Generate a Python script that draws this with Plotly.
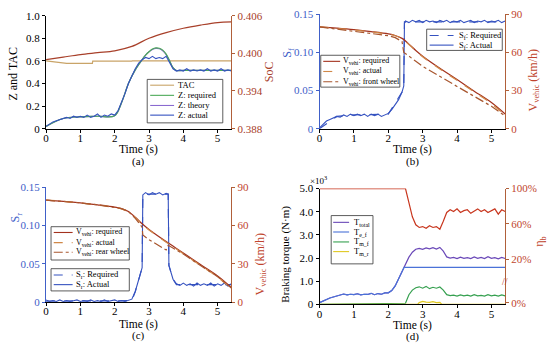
import plotly.graph_objects as go

FONT = "Liberation Serif"
W, H = 550, 351

# ---------------- data ----------------
# (a)
t_a = [0.0, 0.1, 0.2, 0.3, 0.4, 0.5, 0.6, 0.7, 0.8, 0.9,
       1.0, 1.1, 1.2, 1.3, 1.4, 1.5, 1.6, 1.7, 1.8, 1.9,
       2.0, 2.1, 2.2, 2.3, 2.4, 2.5, 2.6, 2.7, 2.8, 2.9,
       3.0, 3.1, 3.2, 3.3, 3.4, 3.5, 3.6, 3.7, 3.8, 3.9,
       4.0, 4.1, 4.2, 4.3, 4.4, 4.5, 4.6, 4.7, 4.8, 4.9,
       5.0, 5.1, 5.2, 5.3, 5.4]
z_actual = [0.02, 0.04, 0.06, 0.07, 0.08, 0.09, 0.10, 0.09, 0.11, 0.10,
            0.11, 0.10, 0.12, 0.10, 0.11, 0.13, 0.10, 0.12, 0.11, 0.13,
            0.12, 0.16, 0.23, 0.31, 0.40, 0.47, 0.53, 0.58, 0.61, 0.63,
            0.62, 0.64, 0.62, 0.63, 0.62, 0.64, 0.59, 0.53, 0.51, 0.52,
            0.51, 0.53, 0.51, 0.52, 0.51, 0.52, 0.51, 0.53, 0.51, 0.52,
            0.51, 0.53, 0.51, 0.52, 0.51]
t_zreq = [0, 0.5, 1.0, 1.5, 2.0, 2.2, 2.4, 2.6, 2.8, 2.9, 3.0, 3.1, 3.2, 3.3,
          3.4, 3.5, 3.6, 3.7, 3.8, 4.0, 5.4]
z_required = [0.02, 0.09, 0.105, 0.11, 0.115, 0.23, 0.40, 0.52, 0.61, 0.65, 0.68,
              0.705, 0.715, 0.712, 0.695, 0.66, 0.60, 0.54, 0.515, 0.515, 0.515]
z_theory = [0.02, 0.09, 0.105, 0.11, 0.115, 0.23, 0.40, 0.52, 0.61, 0.65, 0.68,
            0.70, 0.71, 0.707, 0.69, 0.655, 0.60, 0.54, 0.515, 0.515, 0.515]
t_tac = [0, 0.6, 1.35, 1.36, 2.5, 2.51, 5.4]
tac = [0.6, 0.578, 0.578, 0.597, 0.597, 0.6, 0.6]
t_soc = [0, 0.5, 1.0, 1.5, 2.0, 2.5, 3.0, 3.5, 4.0, 4.5, 5.0, 5.4]
soc = [0.3990, 0.3994, 0.3998, 0.4001, 0.4004, 0.4011, 0.4024, 0.4033,
       0.4040, 0.4045, 0.4049, 0.4050]

# (b)
t_sf = [0.0, 0.1, 0.2, 0.3, 0.4, 0.5, 0.6, 0.7, 0.8, 0.9,
        1.0, 1.1, 1.2, 1.3, 1.4, 1.5, 1.6, 1.7, 1.8, 1.9,
        2.0, 2.1, 2.2, 2.3, 2.4, 2.45, 2.47, 2.5, 2.6, 2.7, 2.8, 2.9,
        3.0, 3.1, 3.2, 3.3, 3.4, 3.5, 3.6, 3.7, 3.8, 3.9,
        4.0, 4.1, 4.2, 4.3, 4.4, 4.5, 4.6, 4.7, 4.8, 4.9,
        5.0, 5.1, 5.2, 5.3, 5.4]
sf_actual = [0.001, 0.006, 0.010, 0.012, 0.014, 0.016, 0.015, 0.018, 0.016, 0.019,
             0.017, 0.019, 0.017, 0.019, 0.016, 0.019, 0.017, 0.019, 0.016, 0.018,
             0.020, 0.025, 0.031, 0.038, 0.048, 0.056, 0.138, 0.141, 0.139, 0.142, 0.140, 0.142,
             0.139, 0.142, 0.140, 0.141, 0.139, 0.142, 0.140, 0.142, 0.139, 0.141,
             0.140, 0.142, 0.139, 0.141, 0.142, 0.139, 0.141, 0.140, 0.142, 0.139,
             0.141, 0.140, 0.142, 0.139, 0.141]
t_sf_req = [0, 0.5, 1.0, 2.0, 2.4, 2.45, 2.47, 5.4]
sf_required = [0.0, 0.016, 0.018, 0.019, 0.048, 0.056, 0.140, 0.140]

t_v = [0, 0.5, 1.0, 1.5, 2.0, 2.2, 2.4, 2.6, 2.8, 3.0, 3.5, 4.0, 4.5, 5.0, 5.4]
v_required = [80, 79, 77.8, 76.3, 74.5, 73.3, 71.0, 66.5, 61.5, 57.0, 47.5, 38.6, 29.5, 20.5, 11.5]
v_actual = [80, 79, 77.6, 76.1, 74.3, 73.1, 70.8, 66.2, 61.2, 56.6, 47.0, 38.0, 28.8, 19.7, 10.4]
t_vf = [0, 0.5, 1.0, 1.5, 2.0, 2.2, 2.4, 2.45, 2.6, 2.8, 3.0, 3.5, 4.0, 4.5, 5.0, 5.4]
v_front = [80, 78.2, 76.4, 74.9, 73.1, 71.6, 68.5, 60.0, 57.2, 53.0, 49.0, 40.8, 33.2, 25.4, 17.6, 9.9]

# (c)
t_sr = [0.0, 0.1, 0.2, 0.3, 0.4, 0.5, 0.6, 0.7, 0.8, 0.9,
        1.0, 1.1, 1.2, 1.3, 1.4, 1.5, 1.6, 1.7, 1.8, 1.9,
        2.0, 2.1, 2.2, 2.3, 2.4, 2.5, 2.6, 2.7, 2.8, 2.82, 2.9,
        3.0, 3.1, 3.2, 3.3, 3.4, 3.5, 3.56, 3.58, 3.7, 3.8, 3.9,
        4.0, 4.1, 4.2, 4.3, 4.4, 4.5, 4.6, 4.7, 4.8, 4.9,
        5.0, 5.1, 5.2, 5.3, 5.4]
sr_actual = [0.003, 0.001, 0.002, 0.001, 0.003, 0.001, 0.002, 0.001, 0.002, 0.003,
             0.001, 0.002, 0.001, 0.003, 0.001, 0.002, 0.001, 0.003, 0.001, 0.002,
             0.003, 0.001, 0.002, 0.001, 0.003, 0.004, 0.014, 0.030, 0.045, 0.140, 0.143,
             0.140, 0.143, 0.141, 0.143, 0.140, 0.142, 0.141, 0.048, 0.030, 0.024, 0.022,
             0.025, 0.022, 0.024, 0.021, 0.025, 0.022, 0.024, 0.022, 0.025, 0.021,
             0.024, 0.022, 0.025, 0.021, 0.024]
t_sr_req = [0, 2.5, 2.6, 2.7, 2.8, 2.82, 3.56, 3.58, 3.7, 3.8, 5.4]
sr_required = [0.0015, 0.002, 0.014, 0.030, 0.045, 0.141, 0.141, 0.048, 0.030, 0.023, 0.023]
t_vr = [0, 0.5, 1.0, 1.5, 2.0, 2.2, 2.4, 2.6, 2.8, 2.82, 3.0, 3.5, 3.56, 3.7, 4.0, 4.5, 5.0, 5.4]
v_rear = [80, 79, 77.8, 76.3, 74.5, 73.3, 71.0, 65.6, 58.8, 52.6, 49.0, 40.9, 44.6, 42.6, 37.7, 28.8, 20.0, 11.2]

# (d)
t_d = t_a
t_total = [0.08, 0.15, 0.22, 0.28, 0.32, 0.37, 0.40, 0.45, 0.41, 0.44,
           0.42, 0.46, 0.41, 0.44, 0.43, 0.48, 0.42, 0.47, 0.44, 0.50,
           0.50, 0.60, 0.80, 1.10, 1.42, 1.75, 2.04, 2.25, 2.38, 2.42,
           2.38, 2.44, 2.40, 2.45, 2.39, 2.46, 2.30, 2.05, 2.00, 2.03,
           1.98, 2.04, 1.99, 2.02, 1.98, 2.05, 1.99, 2.03, 1.98, 2.06,
           1.99, 2.02, 1.97, 2.03, 1.98]
t_ef = [0.0, 0.1, 0.2, 0.3, 0.4, 0.5, 0.6, 0.7, 0.8, 0.9,
        1.0, 1.1, 1.2, 1.3, 1.4, 1.5, 1.6, 1.7, 1.8, 1.9,
        2.0, 2.1, 2.2, 2.3, 2.4, 2.46, 5.4]
t_e_f = [0.08, 0.15, 0.22, 0.28, 0.32, 0.37, 0.40, 0.45, 0.41, 0.44,
         0.42, 0.46, 0.41, 0.44, 0.43, 0.48, 0.42, 0.47, 0.44, 0.50,
         0.50, 0.60, 0.80, 1.10, 1.42, 1.60, 1.60]
t_mf = [0, 2.5, 2.6, 2.7, 2.8, 2.9, 3.0, 3.1, 3.2, 3.3, 3.4, 3.5, 3.6, 3.7, 3.8, 3.9,
        4.0, 4.1, 4.2, 4.3, 4.4, 4.5, 4.6, 4.7, 4.8, 4.9, 5.0, 5.1, 5.2, 5.3, 5.4]
t_m_f = [0, 0.05, 0.42, 0.62, 0.72, 0.76, 0.70, 0.78, 0.68, 0.74, 0.70, 0.75, 0.62, 0.42, 0.38, 0.40,
         0.36, 0.41, 0.37, 0.40, 0.36, 0.42, 0.37, 0.39, 0.36, 0.42, 0.37, 0.40, 0.36, 0.41, 0.37]
t_mr = [0, 2.85, 2.9, 3.0, 3.1, 3.2, 3.3, 3.4, 3.5, 3.56, 5.4]
t_m_r = [0, 0, 0.08, 0.13, 0.10, 0.09, 0.12, 0.08, 0.09, 0, 0]
t_eta = [0, 2.5, 2.6, 2.7, 2.8, 2.9, 3.0, 3.1, 3.2, 3.3, 3.4, 3.5, 3.6, 3.7, 3.8, 3.9,
         4.0, 4.1, 4.2, 4.3, 4.4, 4.5, 4.6, 4.7, 4.8, 4.9, 5.0, 5.1, 5.2, 5.3, 5.4]
eta_b = [100, 100, 84, 68, 59, 56, 57, 55, 58, 56, 57, 54, 63, 73, 76, 74,
         77, 73, 75, 76, 72, 75, 77, 74, 76, 73, 75, 77, 71, 76, 74]

x_ticks = [0, 1, 2, 3, 4, 5]
za_ticks = [0, 0.2, 0.4, 0.6, 0.8, 1.0]
za_labels = ["0", "0.2", "0.4", "0.6", "0.8", "1.0"]
soc_ticks = [0.388, 0.394, 0.400, 0.406]
soc_labels = ["0.388", "0.394", "0.400", "0.406"]
s_ticks = [0, 0.05, 0.10, 0.15]
s_labels = ["0", "0.05", "0.10", "0.15"]
v_ticks = [0, 30, 60, 90]
tq_ticks = [0, 1, 2, 3, 4, 5]
tq_labels = ["0", "1.0", "2.0", "3.0", "4.0", "5.0"]
eta_ticks = [-29, 20, 60, 100]
eta_labels = ["0%", "20%", "60%", "100%"]

# ---------------- styling ----------------
BLUE = "#3552c0"
BLUE_AX = "#4060c8"
RED_AX = "#c0442e"
RED_LINE_AX = "#b0603a"
VREQ = "#a3321e"
VACT = "#d08848"
VWHL = "#a8562e"
TAC_C = "#c9a468"
GREEN = "#4caa58"
PURPLE = "#8a6ad0"
SOC_C = "#a8402a"


def X(px):
    return px / W


def Y(py):
    return 1 - py / H


fig = go.Figure()


def line(x, y, xa, ya, color, dash="solid", width=1.2, shape="linear"):
    fig.add_trace(go.Scatter(x=x, y=y, xaxis=xa, yaxis=ya, mode="lines",
                             line=dict(color=color, dash=dash, width=width, shape=shape),
                             showlegend=False, hoverinfo="skip"))


# (a)
line(t_soc, soc, "x", "y2", SOC_C, shape="spline")
line(t_tac, tac, "x", "y", TAC_C)
line(t_zreq, z_theory, "x", "y", PURPLE, shape="spline")
line(t_zreq, z_required, "x", "y", GREEN, shape="spline")
line(t_a, z_actual, "x", "y", BLUE, width=1.1)

# (b)
line(t_v, v_required, "x2", "y4", VREQ, shape="spline")
line(t_v, v_actual, "x2", "y4", VACT, dash="dash", shape="spline")
line(t_vf, v_front, "x2", "y4", VWHL, dash="dashdot")
line(t_sf_req, sf_required, "x2", "y3", BLUE, dash="dash")
line(t_sf, sf_actual, "x2", "y3", BLUE, width=1.1)

# (c)
line(t_v, v_required, "x3", "y6", VREQ, shape="spline")
line(t_v, v_actual, "x3", "y6", VACT, dash="dash", shape="spline")
line(t_vr, v_rear, "x3", "y6", VWHL, dash="dashdot")
line(t_sr_req, sr_required, "x3", "y5", BLUE, dash="dash")
line(t_sr, sr_actual, "x3", "y5", BLUE, width=1.1)

# (d)
line(t_d, t_total, "x4", "y7", "#6a48b8")
line(t_ef, t_e_f, "x4", "y7", "#4a72d8")
line(t_mf, t_m_f, "x4", "y7", "#36a050")
line(t_mr, t_m_r, "x4", "y7", "#e0c820")
line(t_eta, eta_b, "x4", "y8", "#c8361e")

A_x, A_y = (43.3, 229.6), (10, 127)
B_x, B_y = (318.3, 504.9), (8.5, 127)
C_x, C_y = (43.3, 229.6), (187.7, 306.7)
D_x, D_y = (318.3, 504.9), (189, 309)


def xax(dx, anchor):
    return dict(domain=[X(dx[0]), X(dx[1])], anchor=anchor, range=[0, 5.4],
                tickvals=x_ticks, ticks="outside", ticklen=3, tickcolor="black",
                ticklabelstandoff=-4,
                showline=True, linecolor="black", linewidth=1, showgrid=False,
                zeroline=False, tickfont=dict(family=FONT, size=11, color="black"))


def yax(dy, anchor, rng, tv, tt, color, lcolor=None, side="left", overlaying=None):
    d = dict(anchor=anchor, range=rng, tickvals=tv, ticktext=tt,
             ticks="outside", ticklen=3, tickcolor=lcolor or color, showline=True,
             linecolor=lcolor or color, linewidth=1, showgrid=False, zeroline=False,
             tickfont=dict(family=FONT, size=11, color=color), side=side)
    if overlaying:
        d["overlaying"] = overlaying
    else:
        d["domain"] = [Y(dy[1]), Y(dy[0])]
    return d


shapes = []
annotations = []


def text(px, py, s, color="black", size=11, angle=0, xanchor="center"):
    annotations.append(dict(x=X(px), y=Y(py), xref="paper", yref="paper", text=s,
                            showarrow=False, textangle=angle, xanchor=xanchor,
                            yanchor="middle", font=dict(family=FONT, size=size, color=color)))


def legend(x0, y0, x1, y1, lx0, lx1, tx, items, size=8.5):
    shapes.append(dict(type="rect", xref="paper", yref="paper", x0=X(x0), x1=X(x1),
                       y0=Y(y1), y1=Y(y0), line=dict(color="#333333", width=0.8),
                       fillcolor="white", layer="above"))
    for lab, col, dash, yy in items:
        shapes.append(dict(type="line", xref="paper", yref="paper", x0=X(lx0), x1=X(lx1),
                           y0=Y(yy), y1=Y(yy), line=dict(color=col, width=1.1, dash=dash),
                           layer="above"))
        text(tx, yy, lab, size=size, xanchor="left")


# legends
legend(145, 76, 221, 121, 148, 172, 174, [
    ("TAC", TAC_C, "solid", 82), ("Z: required", GREEN, "solid", 92.5),
    ("Z: theory", PURPLE, "solid", 103), ("Z: actual", BLUE, "solid", 113)])
legend(319.5, 51, 399, 84, 322, 339, 340, [
    ("V<sub>vehi</sub>: required", VREQ, "solid", 57.3),
    ("V<sub>vehi</sub>: actual", VACT, "dash", 67.8),
    ("V<sub>vehi</sub>: front wheel", VWHL, "dashdot", 78.5)], size=8)
legend(426, 24, 502, 46, 429, 453, 456, [
    ("S<sub>f</sub>: Required", BLUE, "dash", 30.5),
    ("S<sub>f</sub>: Actual", BLUE, "solid", 40.5)])
legend(48.3, 228.5, 127, 263, 51, 70, 71, [
    ("V<sub>vehi</sub>: required", VREQ, "solid", 234.5),
    ("V<sub>vehi</sub>: actual", VACT, "dash", 245),
    ("V<sub>vehi</sub>: rear wheel", VWHL, "dashdot", 255)], size=8)
legend(48.3, 272, 127, 295, 51, 70, 71.5, [
    ("S<sub>r</sub>: Required", BLUE, "dash", 278.5),
    ("S<sub>r</sub>: Actual", BLUE, "solid", 288.5)])
legend(330, 217, 372, 267, 332, 348, 350.5, [
    ("T<sub>total</sub>", "#6a48b8", "solid", 224),
    ("T<sub>e_f</sub>", "#4a72d8", "solid", 234),
    ("T<sub>m_f</sub>", "#36a050", "solid", 244.3),
    ("T<sub>m_r</sub>", "#e0c820", "solid", 254.3)])

# axis titles and captions
text(10, 70, "Z and TAC", size=12, angle=-90)
text(267, 68, "SoC", color=SOC_C, size=12, angle=-90)
text(136.5, 148.5, "Time (s)", size=11.5)
text(136.5, 160.5, "(a)", size=11)

text(287, 48, "S<sub>f</sub>", color=BLUE_AX, size=12, angle=-90)
text(534, 77, "V<sub>vehic</sub> (km/h)", color=RED_AX, size=12, angle=-90)
text(411.6, 148.5, "Time (s)", size=11.5)
text(411.6, 160.5, "(b)", size=11)

text(13, 219, "S<sub>r</sub>", color=BLUE_AX, size=12, angle=-90)
text(259, 268, "V<sub>vehic</sub> (km/h)", color=RED_AX, size=12, angle=-90)
text(136.5, 329.5, "Time (s)", size=11.5)
text(136.5, 341.5, "(c)", size=11)

text(284, 257, "Braking torque (N·m)", size=11, angle=-90)
text(540, 244, "η<sub>b</sub>", color=RED_AX, size=12, angle=-90)
text(317, 180, "×10<sup>3</sup>", size=9)
text(411.6, 330.5, "Time (s)", size=11.5)
text(411.6, 342.5, "(d)", size=11)
text(505, 285, "//", color=RED_AX, size=10)

fig.update_layout(
    width=W, height=H, margin=dict(l=0, r=0, t=0, b=0),
    paper_bgcolor="white", plot_bgcolor="white", showlegend=False,
    font=dict(family=FONT, size=11, color="black"),
    xaxis=xax(A_x, "y"),
    yaxis=yax(A_y, "x", [0, 1.0], za_ticks, za_labels, "black"),
    yaxis2=yax(A_y, "x", [0.388, 0.406], soc_ticks, soc_labels, SOC_C, RED_LINE_AX, "right", "y"),
    xaxis2=xax(B_x, "y3"),
    yaxis3=yax(B_y, "x2", [0, 0.15], s_ticks, s_labels, BLUE_AX),
    yaxis4=yax(B_y, "x2", [0, 90], v_ticks, [str(v) for v in v_ticks], RED_AX, RED_LINE_AX, "right", "y3"),
    xaxis3=xax(C_x, "y5"),
    yaxis5=yax(C_y, "x3", [0, 0.15], s_ticks, s_labels, BLUE_AX),
    yaxis6=yax(C_y, "x3", [0, 90], v_ticks, [str(v) for v in v_ticks], RED_AX, RED_LINE_AX, "right", "y5"),
    xaxis4=xax(D_x, "y7"),
    yaxis7=yax(D_y, "x4", [0, 5.0], tq_ticks, tq_labels, "black"),
    yaxis8=yax(D_y, "x4", [-31, 100], eta_ticks, eta_labels, RED_AX, RED_LINE_AX, "right", "y7"),
    shapes=shapes, annotations=annotations,
)

fig.write_html("out.html", config={"displayModeBar": False},
               post_script="document.body.style.margin='0';")
